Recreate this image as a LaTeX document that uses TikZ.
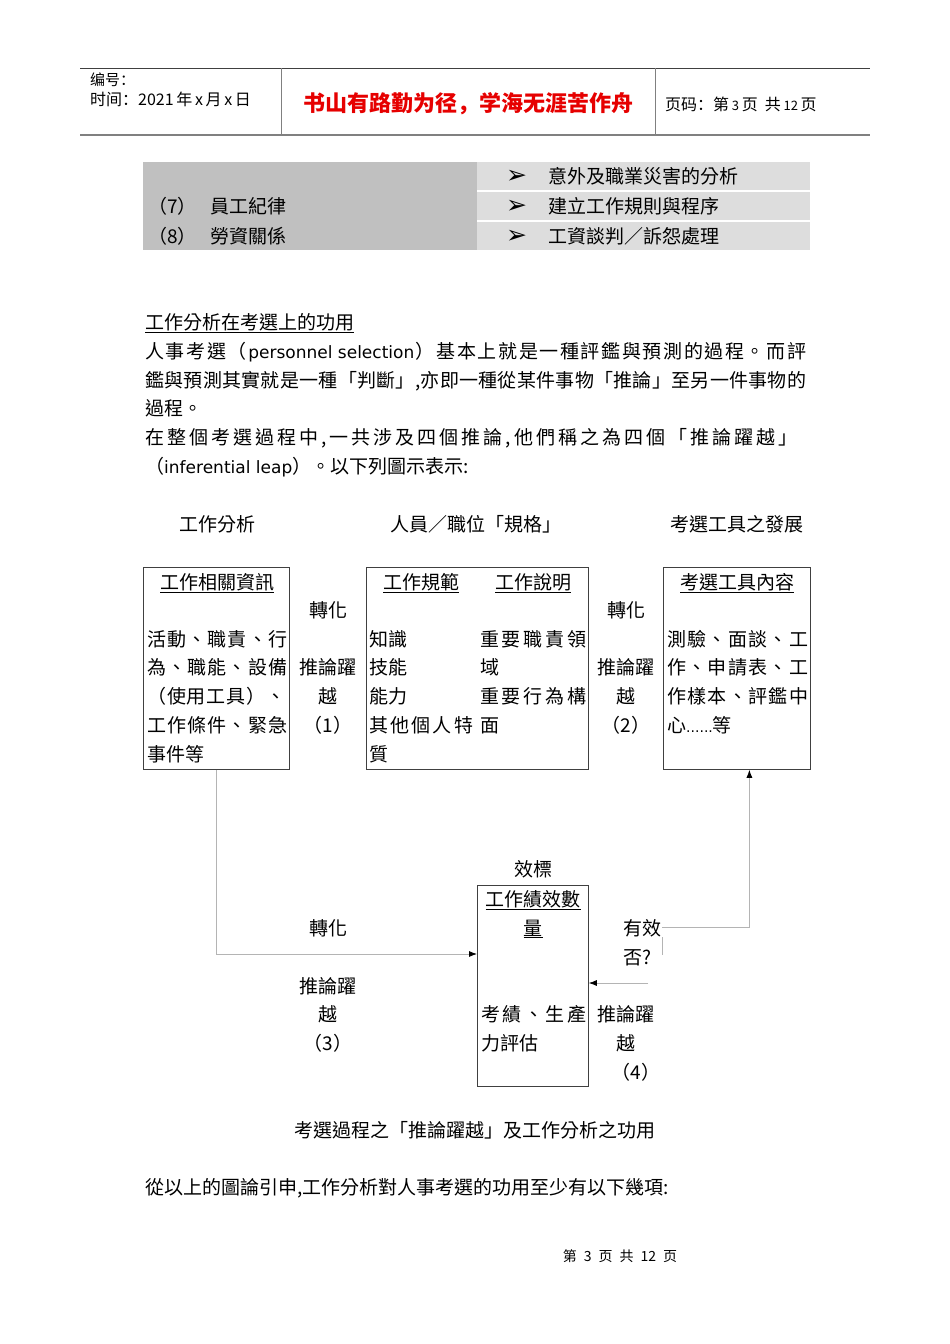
\documentclass[tikz,border=0pt]{standalone}
\usepackage{fontspec}
\setmainfont{Noto Sans CJK TC}
\newfontfamily\sccjk{Noto Sans CJK SC}
\newfontfamily\lat{DejaVu Sans}
\usetikzlibrary{arrows.meta,positioning,calc}
\definecolor{cellgray}{HTML}{C0C0C0}
\definecolor{celllight}{HTML}{DDDDDD}
\definecolor{rulegray}{HTML}{808080}
\definecolor{linkgray}{HTML}{B4B4B4}
\definecolor{boxline}{HTML}{404040}
\definecolor{motto}{HTML}{E60000}

% stretch a line of characters to a given width
\makeatletter
\newcommand\spreadto[2]{\makebox[#1][s]{\@tfor\ch:=#2\do{{\ch}\hfil}\unskip}}
\makeatother

\begin{document}
\begin{tikzpicture}[
      x=1pt, y=-1pt,
      txt/.style  = {inner sep=0pt, anchor=west, font=\fontsize{19}{23}\selectfont,
                     text height=16.7pt, text depth=2.3pt},
      ctr/.style  = {txt, anchor=center},
      hdr/.style  = {inner sep=0pt, anchor=west, font=\sccjk\fontsize{15}{18}\selectfont},
      box/.style  = {draw=boxline, line width=0.8pt, anchor=north west, inner sep=0pt},
      cell/.style = {fill=celllight, anchor=north west, inner sep=0pt,
                     minimum width=333pt, minimum height=28pt},
      link/.style = {draw=linkgray, line width=0.8pt,
                     -{Latex[length=8pt,width=6pt,color=black]}},
      tick/.style = {draw=linkgray, line width=0.8pt},
    ]
    \path[use as bounding box, fill=white] (0,0) rectangle (950,1344);

    % ---- page header ----
    \draw[boxline, line width=0.8pt] (80,68) -- (870,68);
    \draw[rulegray, line width=2pt] (80,135) -- (870,135);
    \draw[rulegray, line width=1pt] (281,68) -- (281,135);
    \draw[rulegray, line width=1pt] (655,68) -- (655,135);

    \node[hdr] (hnum)  at (90,80) {编号：};
    \node[hdr, font=\sccjk\fontsize{16}{19}\selectfont] (hdate) at (90,99) {时间：2021\,年\,x\,月\,x\,日};
    \node[inner sep=0pt, text=motto, font=\sccjk\bfseries\fontsize{22}{26}\selectfont]
          (hmotto) at (468,104) {书山有路勤为径，学海无涯苦作舟};
    \node[hdr, font=\sccjk\fontsize{16}{19}\selectfont] (hpage) at (665,104)
          {页码：第\,{\fontsize{13}{15}\selectfont 3}\,页\ \ 共\,{\fontsize{13}{15}\selectfont 12}\,页};

    % ---- table fragment ----
    \node[fill=cellgray, anchor=north west, inner sep=0pt,
          minimum width=334pt, minimum height=88pt] (tleft) at (143,162) {};
    \foreach \y/\t [count=\i] in {162/意外及職業災害的分析, 192/建立工作規則與程序, 222/工資談判／訴怨處理} {
      \node[cell] (row\i) at (477,\y) {};
      \node[inner sep=0pt, anchor=west, font=\lat\fontsize{25}{28}\selectfont] (bul\i) at (506,\y+15) {➢};
      \node[txt] (item\i) at (548,\y+14) {\t};
    }
    \node[txt] (no7)  at (148,206) {（7）};
    \node[txt] (rule) at (210,206) {員工紀律};
    \node[txt] (no8)  at (148,236) {（8）};
    \node[txt] (labr) at (210,236) {勞資關係};

    % ---- paragraph ----
    \node[txt] (ptitle) at (145,322) {\underline{工作分析在考選上的功用}};
    \node[txt] (par1) at (145,351) {\spreadto{661pt}{人事考選（{\lat\fontsize{17}{20}\selectfont personnel selection}）基本上就是一種評鑑與預測的過程。而評}};
    \node[txt] (par2) at (145,380) {\spreadto{661pt}{鑑與預測其實就是一種「判斷」,亦即一種從某件事物「推論」至另一件事物的}};
    \node[txt] (par3) at (145,408) {過程。};
    \node[txt] (par4) at (145,437) {\spreadto{652pt}{在整個考選過程中,一共涉及四個推論,他們稱之為四個「推論躍越」}};
    \node[txt] (par5) at (145,466) {（{\lat\fontsize{17}{20}\selectfont inferential leap}）。以下列圖示表示:};

    % ---- column heads ----
    \node[ctr] (hana)  at (217,524) {工作分析};
    \node[ctr] (hspec) at (476,524) {人員／職位「規格」};
    \node[ctr] (hdev)  at (737,524) {考選工具之發展};

    % ---- boxes ----
    \node[box, minimum width=146pt, minimum height=202pt] (rel)  at (143,567) {};
    \node[box, minimum width=222pt, minimum height=202pt] (spec) at (366,567) {};
    \node[box, minimum width=147pt, minimum height=202pt] (tool) at (663,567) {};
    \node[box, minimum width=111pt, minimum height=201pt] (perf) at (477,885) {};

    % job related information
    \node[ctr] (relt) at (217,582) {\underline{工作相關資訊}};
    \node[txt] (rel1) at (147,639) {\spreadto{140pt}{活動、職責、行}};
    \node[txt] (rel2) at (147,667) {\spreadto{140pt}{為、職能、設備}};
    \node[txt] (rel3) at (147,696) {\spreadto{138pt}{（使用工具）、}};
    \node[txt] (rel4) at (147,725) {\spreadto{140pt}{工作條件、緊急}};
    \node[txt] (rel5) at (147,754) {事件等};

    % specification / description
    \node[ctr] (spect) at (421,582) {\underline{工作規範}};
    \node[ctr] (desct) at (533,582) {\underline{工作說明}};
    \node[txt] (spec1) at (369,639) {知識};
    \node[txt] (spec2) at (369,667) {技能};
    \node[txt] (spec3) at (369,696) {能力};
    \node[txt] (spec4) at (369,725) {\spreadto{104pt}{其他個人特}};
    \node[txt] (spec5) at (369,754) {質};
    \node[txt] (desc1) at (480,639) {\spreadto{106pt}{重要職責領}};
    \node[txt] (desc2) at (480,667) {域};
    \node[txt] (desc3) at (480,696) {\spreadto{106pt}{重要行為構}};
    \node[txt] (desc4) at (480,725) {面};

    % selection tools
    \node[ctr] (toolt) at (737,582) {\underline{考選工具內容}};
    \node[txt] (tool1) at (667,639) {\spreadto{141pt}{測驗、面談、工}};
    \node[txt] (tool2) at (667,667) {\spreadto{141pt}{作、申請表、工}};
    \node[txt] (tool3) at (667,696) {\spreadto{141pt}{作樣本、評鑑中}};
    \node[txt] (tool4) at (667,725) {心{\lat\fontsize{14}{17}\selectfont ......}等};

    % criterion
    \node[ctr] (crit)  at (533,869) {效標};
    \node[ctr] (perft) at (533,899) {\underline{工作績效數}};
    \node[ctr] (perfq) at (533,928) {\underline{量}};
    \node[txt] (perf1) at (481,1014) {\spreadto{105pt}{考績、生產}};
    \node[txt] (perf2) at (481,1043) {力評估};

    % ---- leap labels ----
    \foreach \t/\y [count=\i] in {轉化/610, 推論躍/667, 越/696, （1）/725}
      \node[ctr] (leapa\i) at (328,\y) {\t};
    \foreach \t/\y [count=\i] in {轉化/610, 推論躍/667, 越/696, （2）/725}
      \node[ctr] (leapb\i) at (626,\y) {\t};
    \foreach \t/\y [count=\i] in {轉化/928, 推論躍/986, 越/1014, （3）/1043}
      \node[ctr] (leapc\i) at (328,\y) {\t};
    \foreach \t/\x/\y [count=\i] in {推論躍/626/1014, 越/626/1043, （4）/636/1072}
      \node[ctr] (leapd\i) at (\x,\y) {\t};
    \node[txt] (valid1) at (623,928) {有效};
    \node[txt] (valid2) at (623,957) {否?};

    % ---- connectors ----
    \coordinate (in3)  at (477,954);
    \coordinate (in4)  at (648,983);
    \coordinate (from5) at (662,927);
    \draw[link] (rel.south) |- (in3);
    \draw[link] (in4) -- (perf.east |- in4);
    \draw[link] (from5) -| ([xshift=12.5pt]tool.south);
    \draw[tick] ([yshift=-10pt]from5) -- ([yshift=-28pt]from5);

    % ---- caption and closing line ----
    \node[ctr] (cap)   at (475,1130) {考選過程之「推論躍越」及工作分析之功用};
    \node[txt] (concl) at (145,1187) {從以上的圖論引申,工作分析對人事考選的功用至少有以下幾項:};
    \node[inner sep=0pt, font=\sccjk\fontsize{14}{17}\selectfont] (foot) at (620,1256)
          {第\enspace 3\enspace 页\enspace 共\enspace 12\enspace 页};
  \end{tikzpicture}
\end{document}
